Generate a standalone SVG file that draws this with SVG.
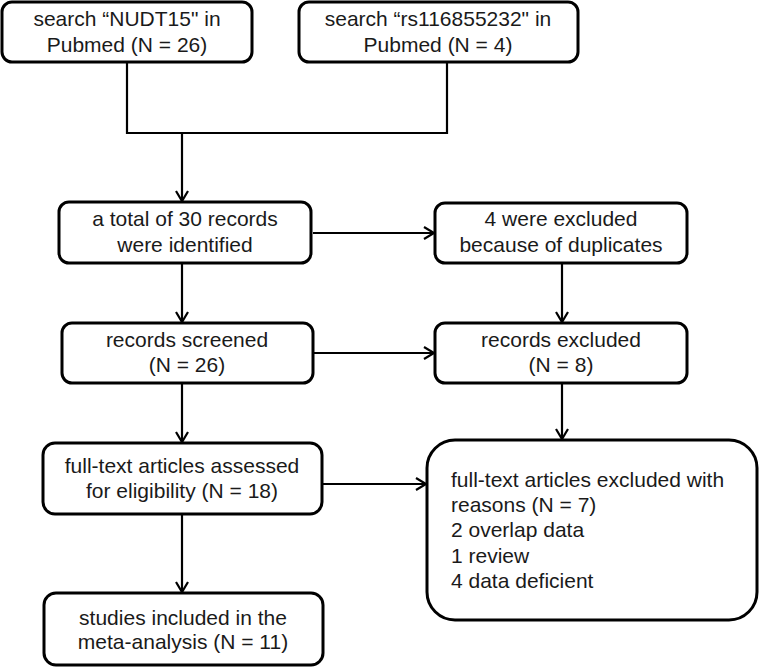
<svg xmlns="http://www.w3.org/2000/svg" width="759" height="667" viewBox="0 0 759 667">
<style>
.box{fill:#fff;stroke:#000;stroke-width:3}
.t{font-family:"Liberation Sans",Arial,sans-serif;font-size:21px;fill:#1a1a1a}
.c{text-anchor:middle}
.ln{fill:none;stroke:#000;stroke-width:2.2}
</style>
<defs>
<marker id="ah" markerWidth="14" markerHeight="14" refX="11" refY="7" orient="auto" markerUnits="userSpaceOnUse">
<polyline points="1,1 11,7 1,13" fill="none" stroke="#000" stroke-width="2.2"/>
</marker>
</defs>
<g id="connectors">
<polyline class="ln" points="127,62 127,133 447,133 447,62"/>
<line class="ln" x1="182" y1="133" x2="182" y2="201" marker-end="url(#ah)"/>
<line class="ln" x1="313" y1="233" x2="434" y2="233" marker-end="url(#ah)"/>
<line class="ln" x1="182" y1="263" x2="182" y2="322" marker-end="url(#ah)"/>
<line class="ln" x1="562" y1="263" x2="562" y2="322" marker-end="url(#ah)"/>
<line class="ln" x1="313" y1="353" x2="434" y2="353" marker-end="url(#ah)"/>
<line class="ln" x1="182" y1="383" x2="182" y2="442" marker-end="url(#ah)"/>
<line class="ln" x1="562" y1="383" x2="562" y2="439" marker-end="url(#ah)"/>
<line class="ln" x1="322" y1="484" x2="426" y2="484" marker-end="url(#ah)"/>
<line class="ln" x1="182" y1="514" x2="182" y2="592" marker-end="url(#ah)"/>
</g>
<g id="n1">
<rect class="box" x="2" y="2" width="250" height="60" rx="10"/>
<text class="t c" x="127" y="26">search “NUDT15" in</text>
<text class="t c" x="127" y="52">Pubmed (N = 26)</text>
</g>
<g id="n2">
<rect class="box" x="299" y="2" width="279" height="60" rx="10"/>
<text class="t c" x="438" y="26">search “rs116855232" in</text>
<text class="t c" x="438" y="52">Pubmed (N = 4)</text>
</g>
<g id="n3">
<rect class="box" x="59" y="202" width="252" height="61" rx="10"/>
<text class="t c" x="185" y="226">a total of 30 records</text>
<text class="t c" x="185" y="252">were identified</text>
</g>
<g id="n4">
<rect class="box" x="435" y="203" width="252" height="60" rx="10"/>
<text class="t c" x="561" y="226">4 were excluded</text>
<text class="t c" x="561" y="252">because of duplicates</text>
</g>
<g id="n5">
<rect class="box" x="62" y="323" width="251" height="60" rx="10"/>
<text class="t c" x="187" y="347">records screened</text>
<text class="t c" x="187" y="372">(N = 26)</text>
</g>
<g id="n6">
<rect class="box" x="435" y="323" width="252" height="60" rx="10"/>
<text class="t c" x="561" y="347">records excluded</text>
<text class="t c" x="561" y="372">(N = 8)</text>
</g>
<g id="n7">
<rect class="box" x="43" y="443" width="279" height="71" rx="12"/>
<text class="t c" x="182" y="473">full-text articles assessed</text>
<text class="t c" x="182" y="498">for eligibility (N = 18)</text>
</g>
<g id="n8">
<rect class="box" x="427" y="440" width="330" height="180" rx="28"/>
<text class="t" x="451" y="487">full-text articles excluded with</text>
<text class="t" x="451" y="512">reasons (N = 7)</text>
<text class="t" x="451" y="537">2 overlap data</text>
<text class="t" x="451" y="563">1 review</text>
<text class="t" x="451" y="588">4 data deficient</text>
</g>
<g id="n9">
<rect class="box" x="44" y="593" width="279" height="72" rx="12"/>
<text class="t c" x="183" y="625">studies included in the</text>
<text class="t c" x="183" y="649">meta-analysis (N = 11)</text>
</g>
</svg>
